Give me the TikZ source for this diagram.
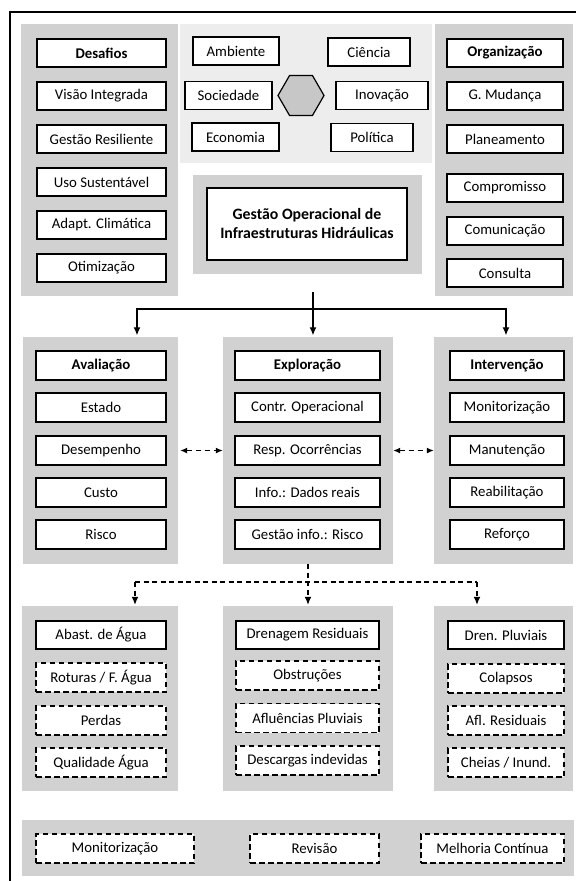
\documentclass[tikz,border=0pt]{standalone}
\usepackage{fontspec}
\setmainfont{Carlito}
\usetikzlibrary{arrows.meta,shapes.geometric}

\begin{document}
\begin{tikzpicture}[
  x=1pt,
  y=-1pt,
  >={Latex[length=8pt,width=7pt]},
  panel/.style={fill=black!18, inner sep=0pt},
  lightpanel/.style={fill=black!7, inner sep=0pt},
  box/.style={draw, line width=1.3pt, fill=white, minimum height=28pt, inner sep=0pt, align=center, font=\fontsize{14.8}{17}\selectfont},
  hbox/.style={box, font=\fontsize{14.8}{17}\selectfont\bfseries},
  dbox/.style={box, line width=1.2pt, dash pattern=on 5.5pt off 3.5pt},
  conn/.style={line width=1.2pt},
  arrow/.style={->, line width=1.2pt, shorten >=1.5pt},
  darrow/.style={->, line width=1.2pt, dash pattern=on 5pt off 3.5pt, shorten >=1pt},
  twoway/.style={{Latex[length=7pt,width=6pt]}-{Latex[length=7pt,width=6pt]}, line width=1.2pt, dash pattern=on 5pt off 4pt}
]
  \useasboundingbox (0,0) rectangle (576,881);
  \draw[line width=1.3pt] (10,881) -- (10,12) -- (576,12);

  \node[panel, minimum width=157, minimum height=272] (pDes) at (99.5,160) {};
  \node[lightpanel, minimum width=252, minimum height=139] (pEixos) at (306,93.5) {};
  \node[panel, minimum width=229, minimum height=99] (pCentro) at (307.5,224.5) {};
  \node[panel, minimum width=138, minimum height=272] (pOrg) at (504,160) {};

  \node[hbox, minimum width=129] (des) at (101.5,53) {Desafios};
  \node[box, minimum width=129] (visao) at (101.5,96) {Visão Integrada};
  \node[box, minimum width=129] (resil) at (101.5,139) {Gestão Resiliente};
  \node[box, minimum width=129] (sust) at (101.5,182) {Uso Sustentável};
  \node[box, minimum width=129] (clima) at (101.5,225) {Adapt. Climática};
  \node[box, minimum width=129] (otim) at (101.5,268) {Otimização};

  \node[box, minimum width=86] (amb) at (236,51) {Ambiente};
  \node[box, minimum width=87] (soc) at (228.5,95.5) {Sociedade};
  \node[box, minimum width=87] (eco) at (235.5,137) {Economia};
  \node[box, minimum width=82] (cien) at (369,52) {Ciência};
  \node[box, minimum width=92] (inov) at (382,95.5) {Inovação};
  \node[box, minimum width=82] (pol) at (372,137.5) {Política};
  \node[draw, line width=1.2pt, fill=black!22, regular polygon, regular polygon sides=6, minimum size=46pt, inner sep=0pt] (hexa) at (301,95.5) {};

  \node[hbox, minimum width=200, minimum height=72, font=\fontsize{15.8}{19}\selectfont\bfseries] (gestao) at (307,224) {Gestão Operacional de\\Infraestruturas Hidráulicas};

  \node[hbox, minimum width=116] (org) at (505,53) {Organização};
  \node[box, minimum width=116] (mud) at (505,96) {G. Mudança};
  \node[box, minimum width=116] (plan) at (505,139) {Planeamento};
  \node[box, minimum width=116] (comp) at (505,188) {Compromisso};
  \node[box, minimum width=116] (comun) at (505,231) {Comunicação};
  \node[box, minimum width=116] (cons) at (505,273) {Consulta};

  \node[panel, minimum width=155, minimum height=227] (pAva) at (100.5,450.5) {};
  \node[panel, minimum width=170, minimum height=227] (pExp) at (308,450.5) {};
  \node[panel, minimum width=139, minimum height=227] (pInt) at (503.5,450.5) {};

  \node[hbox, minimum width=130, minimum height=29] (ava) at (101,365.5) {Avaliação};
  \node[box, minimum width=130, minimum height=29] (estado) at (101,407.5) {Estado};
  \node[box, minimum width=130, minimum height=29] (desemp) at (101,450.5) {Desempenho};
  \node[box, minimum width=130, minimum height=29] (custo) at (101,492.5) {Custo};
  \node[box, minimum width=130, minimum height=29] (risco) at (101,534.5) {Risco};

  \node[hbox, minimum width=145, minimum height=29] (exp) at (307.5,365.5) {Exploração};
  \node[box, minimum width=145, minimum height=29] (contr) at (307.5,407.5) {Contr. Operacional};
  \node[box, minimum width=145, minimum height=29] (resp) at (307.5,450.5) {Resp. Ocorrências};
  \node[box, minimum width=145, minimum height=29] (info) at (307.5,492.5) {Info.: Dados reais};
  \node[box, minimum width=145, minimum height=29] (ginfo) at (307.5,534.5) {Gestão info.: Risco};

  \node[hbox, minimum width=114, minimum height=29] (int) at (507,365.5) {Intervenção};
  \node[box, minimum width=114, minimum height=29] (monit) at (507,407.5) {Monitorização};
  \node[box, minimum width=114, minimum height=29] (manut) at (507,450.5) {Manutenção};
  \node[box, minimum width=114, minimum height=29] (reab) at (507,492.5) {Reabilitação};
  \node[box, minimum width=114, minimum height=29] (refor) at (507,534.5) {Reforço};

  \coordinate (stub) at (313,292);
  \coordinate (split) at (313,309);
  \coordinate (splitL) at (137,309);
  \coordinate (splitR) at (506,309);
  \draw[conn] (stub) -- (split);
  \draw[arrow] (split) -- (split |- pExp.north);
  \draw[arrow] (split) -- (splitL) -- (splitL |- pAva.north);
  \draw[arrow] (split) -- (splitR) -- (splitR |- pInt.north);

  \draw[twoway, shorten <=2pt] (pAva.east) -- (pExp.west);
  \draw[twoway] (pExp.east) -- (pInt.west);

  \node[panel, minimum width=156, minimum height=185] (pAgua) at (100,698.5) {};
  \node[panel, minimum width=170, minimum height=185] (pRes) at (308,698.5) {};
  \node[panel, minimum width=139, minimum height=185] (pPluv) at (503.5,698.5) {};

  \node[box, minimum width=130] (agua) at (101,635) {Abast. de Água};
  \node[dbox, minimum width=130, minimum height=29] (rot) at (101,677.5) {Roturas / F. Água};
  \node[dbox, minimum width=130, minimum height=29] (perdas) at (101,720.5) {Perdas};
  \node[dbox, minimum width=130, minimum height=29] (qual) at (101,762.5) {Qualidade Água};

  \node[box, minimum width=143] (dren) at (307.5,635) {Drenagem Residuais};
  \node[dbox, minimum width=143, minimum height=29] (obst) at (307.5,675.5) {Obstruções};
  \node[dbox, minimum width=143, minimum height=29] (aflp) at (307.5,718) {Afluências Pluviais};
  \node[dbox, minimum width=143, minimum height=29] (desc) at (307.5,760.5) {Descargas indevidas};

  \node[box, minimum width=116] (pluv) at (506,635) {Dren. Pluviais};
  \node[dbox, minimum width=116, minimum height=29] (colap) at (506,678.5) {Colapsos};
  \node[dbox, minimum width=116, minimum height=29] (aflr) at (506,720.5) {Afl. Residuais};
  \node[dbox, minimum width=116, minimum height=29] (cheias) at (506,762.5) {Cheias / Inund.};

  \coordinate (dsplit) at (308,582);
  \coordinate (dsplitL) at (135,582);
  \coordinate (dsplitR) at (477,582);
  \draw[darrow] (pExp.south) -- (pRes.north);
  \draw[conn, dash pattern=on 5pt off 3.5pt] (dsplitL) -- (dsplitR);
  \draw[darrow] (dsplitL) -- (dsplitL |- pAgua.north);
  \draw[darrow] (dsplitR) -- (dsplitR |- pPluv.north);

  \node[panel, minimum width=552, minimum height=56] (pCiclo) at (298,848) {};
  \node[dbox, minimum width=158, minimum height=29] (cmon) at (115,848.5) {Monitorização};
  \node[dbox, minimum width=129, minimum height=29] (crev) at (314.5,848.5) {Revisão};
  \node[dbox, minimum width=143, minimum height=29] (cmel) at (492.5,848.5) {Melhoria Contínua};
\end{tikzpicture}
\end{document}
